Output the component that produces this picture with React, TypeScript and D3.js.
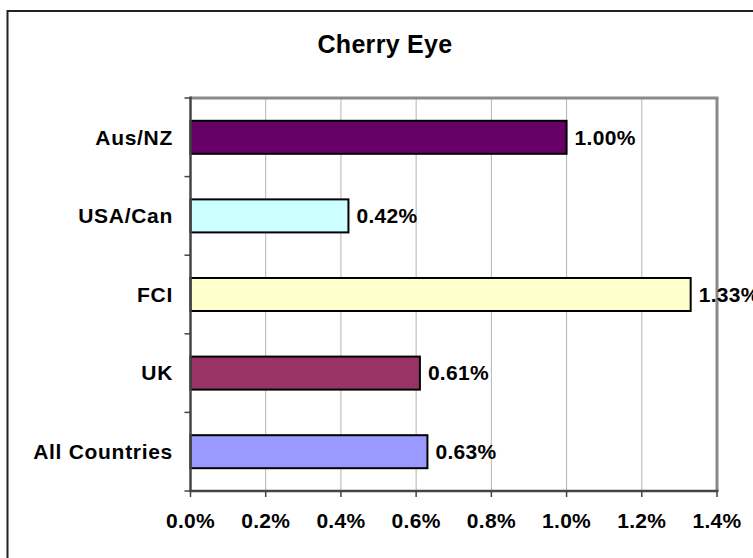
import React from "react";
import * as d3 from "d3";

const title = "Cherry Eye";
const categories = ["Aus/NZ", "USA/Can", "FCI", "UK", "All Countries"];
const values = [0.01, 0.0042, 0.0133, 0.0061, 0.0063];
const valueLabels = ["1.00%", "0.42%", "1.33%", "0.61%", "0.63%"];
const barColors = ["#660066", "#CCFFFF", "#FFFFCC", "#993366", "#9999FF"];
const xTicks = [0, 0.002, 0.004, 0.006, 0.008, 0.01, 0.012, 0.014];

const W = 753;
const H = 558;
const plot = { left: 190.5, right: 717, top: 98, bottom: 491 };
const font = "'Liberation Sans', Arial, Helvetica, sans-serif";

export default function App() {
  const x = d3.scaleLinear().domain([0, 0.014]).range([plot.left, plot.right]);
  const y = d3
    .scaleBand<string>()
    .domain(categories)
    .range([plot.top, plot.bottom])
    .paddingInner(0.58)
    .paddingOuter(0.29);
  const step = y.step();
  const fmt = d3.format(".1%");
  const bandEdges = d3.range(categories.length + 1).map((i) => plot.top + i * step);

  return (
    <svg
      width={W}
      height={H}
      style={{ position: "absolute", left: 0, top: 0, background: "#fff" }}
      fontFamily={font}
      fontWeight="bold"
    >
      <rect x={0} y={0} width={W} height={H} fill="#fff" />
      {/* outer chart border */}
      <rect x={7.5} y={11} width={W + 20} height={H + 20} fill="none" stroke="#222" strokeWidth={2} />

      <text x={385} y={53} textAnchor="middle" fontSize={25} fill="#000" letterSpacing={0.3}>
        {title}
      </text>

      {/* gridlines */}
      {xTicks.slice(1, -1).map((t) => (
        <line key={t} x1={x(t)} x2={x(t)} y1={plot.top} y2={plot.bottom} stroke="#b4b4b4" strokeWidth={1} />
      ))}

      {/* plot frame top/right */}
      <line x1={plot.left} x2={plot.right + 1.5} y1={plot.top} y2={plot.top} stroke="#8a8a8a" strokeWidth={3} />
      <line x1={plot.right} x2={plot.right} y1={plot.top} y2={plot.bottom} stroke="#8a8a8a" strokeWidth={3} />

      {/* bars */}
      {categories.map((c, i) => (
        <rect
          key={c}
          x={x(0)}
          y={y(c)}
          width={x(values[i]) - x(0)}
          height={y.bandwidth()}
          fill={barColors[i]}
          stroke="#000"
          strokeWidth={2}
        />
      ))}

      {/* value labels */}
      {categories.map((c, i) => (
        <text
          key={c}
          x={x(values[i]) + 8}
          y={(y(c) as number) + y.bandwidth() / 2}
          dy="0.35em"
          fontSize={21}
          fill="#000"
          letterSpacing={0.3}
        >
          {valueLabels[i]}
        </text>
      ))}

      {/* axes */}
      <line x1={plot.left} x2={plot.left} y1={plot.top - 1.5} y2={plot.bottom + 1} stroke="#444" strokeWidth={2.5} />
      <line x1={plot.left - 1} x2={plot.right + 1.5} y1={plot.bottom} y2={plot.bottom} stroke="#444" strokeWidth={2.5} />
      {bandEdges.map((e, i) => (
        <line key={i} x1={plot.left - 6} x2={plot.left} y1={e} y2={e} stroke="#444" strokeWidth={1.5} />
      ))}
      {xTicks.map((t) => (
        <line key={t} x1={x(t)} x2={x(t)} y1={plot.bottom} y2={plot.bottom + 6} stroke="#444" strokeWidth={1.5} />
      ))}

      {/* category labels */}
      {categories.map((c) => (
        <text
          key={c}
          x={173}
          y={(y(c) as number) + y.bandwidth() / 2}
          dy="0.35em"
          textAnchor="end"
          fontSize={21}
          fill="#000"
          letterSpacing={0.7}
        >
          {c}
        </text>
      ))}

      {/* tick labels */}
      {xTicks.map((t) => (
        <text key={t} x={x(t)} y={528} textAnchor="middle" fontSize={21} fill="#000" letterSpacing={0.3}>
          {fmt(t)}
        </text>
      ))}
    </svg>
  );
}
